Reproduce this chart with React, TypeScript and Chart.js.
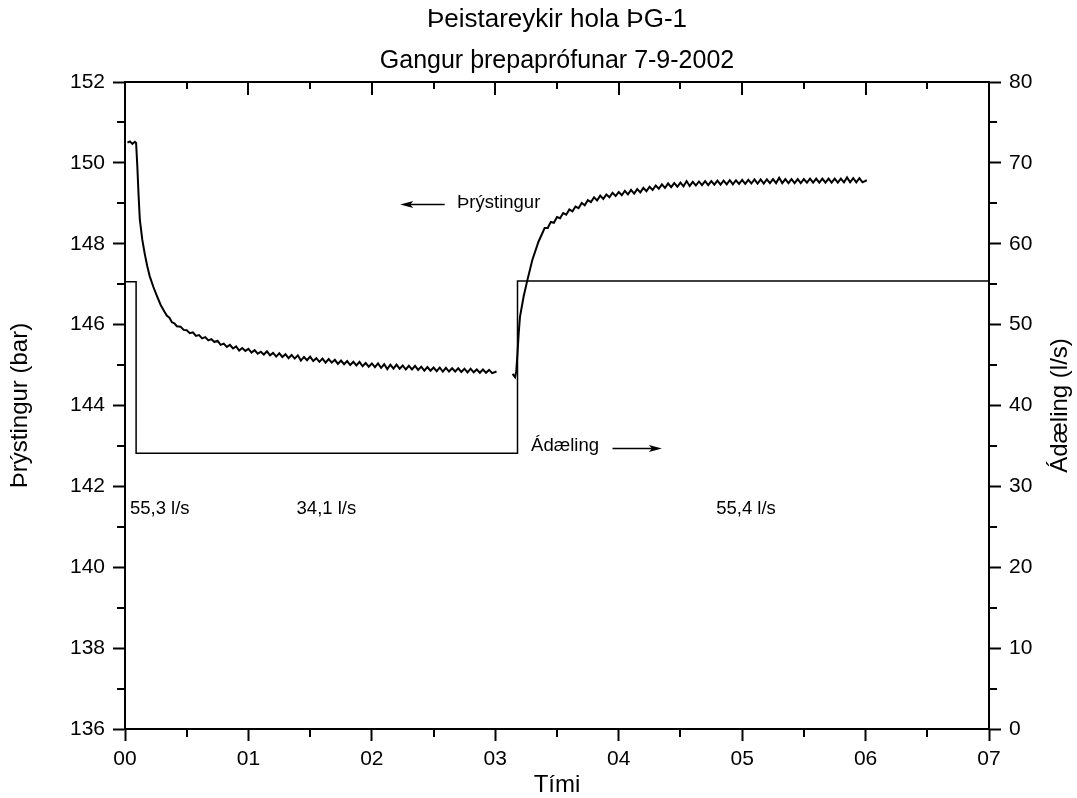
import React, { useEffect, useRef } from 'react';
import { Chart, registerables } from 'chart.js';

Chart.register(...registerables);

const FONT = "'Liberation Sans', Arial, sans-serif";

const chartTitle = 'Þeistareykir hola ÞG-1';
const chartSubtitle = 'Gangur þrepaprófunar 7-9-2002';
const xAxisTitle = 'Tími';
const yAxisTitle = 'Þrýstingur (bar)';
const y2AxisTitle = 'Ádæling (l/s)';

const xTickLabels = ['00', '01', '02', '03', '04', '05', '06', '07'];

// Pressure (bar), before the rate step-up
const pressureTime1 = [
  0.02, 0.04, 0.06, 0.08, 0.09, 0.10, 0.11, 0.12, 0.14, 0.16, 0.18, 0.20, 0.23, 0.26, 0.29, 0.32, 0.34, 0.36, 0.38, 0.40, 0.42,
  0.450, 0.475, 0.500, 0.525, 0.550, 0.575, 0.600, 0.625, 0.650, 0.675, 0.700, 0.725, 0.750, 0.775, 0.800, 0.825,
  0.850, 0.875, 0.900, 0.925, 0.950, 0.975, 1.000, 1.025, 1.050, 1.075, 1.100, 1.125, 1.150, 1.175, 1.200, 1.225,
  1.250, 1.275, 1.300, 1.325, 1.350, 1.375, 1.400, 1.425, 1.450, 1.475, 1.500, 1.525, 1.550, 1.575, 1.600, 1.625,
  1.650, 1.675, 1.700, 1.725, 1.750, 1.775, 1.800, 1.825, 1.850, 1.875, 1.900, 1.925, 1.950, 1.975, 2.000, 2.025,
  2.050, 2.075, 2.100, 2.125, 2.150, 2.175, 2.200, 2.225, 2.250, 2.275, 2.300, 2.325, 2.350, 2.375, 2.400, 2.425,
  2.450, 2.475, 2.500, 2.525, 2.550, 2.575, 2.600, 2.625, 2.650, 2.675, 2.700, 2.725, 2.750, 2.775, 2.800, 2.825,
  2.850, 2.875, 2.900, 2.925, 2.950, 2.975, 3.010,
];
const pressureValue1 = [
  150.50, 150.53, 150.47, 150.52, 150.49, 149.9, 149.2, 148.6, 148.1, 147.75, 147.45, 147.2, 146.93, 146.7, 146.48, 146.32, 146.22, 146.17, 146.06, 146.03, 145.96,
  145.95, 145.87, 145.86, 145.79, 145.81, 145.72, 145.74, 145.66, 145.69, 145.61, 145.64, 145.57, 145.60, 145.50, 145.53, 145.45,
  145.50, 145.41, 145.46, 145.36, 145.42, 145.35, 145.40, 145.31, 145.37, 145.28, 145.33, 145.26, 145.34, 145.24, 145.30, 145.21,
  145.29, 145.20, 145.27, 145.17, 145.25, 145.16, 145.24, 145.11, 145.20, 145.12, 145.21, 145.10, 145.17, 145.08, 145.16, 145.06,
  145.15, 145.06, 145.13, 145.03, 145.11, 145.02, 145.10, 145.00, 145.08, 144.99, 145.08, 144.97, 145.05, 144.96, 145.04, 144.95,
  145.04, 144.93, 145.02, 144.90, 145.01, 144.91, 145.01, 144.91, 144.99, 144.89, 144.98, 144.89, 144.98, 144.88, 144.96, 144.86,
  144.95, 144.86, 144.94, 144.85, 144.94, 144.84, 144.93, 144.84, 144.92, 144.84, 144.92, 144.83, 144.91, 144.82, 144.91, 144.82,
  144.89, 144.81, 144.89, 144.81, 144.88, 144.80, 144.84,
];

// Pressure (bar), after the rate step-up
const pressureTime2 = [
  3.14, 3.16, 3.17, 3.18, 3.19, 3.20, 3.23, 3.26, 3.30, 3.35,
  3.400, 3.425, 3.450, 3.475, 3.500, 3.525, 3.550, 3.575, 3.600, 3.625, 3.650, 3.675, 3.700, 3.725, 3.750, 3.775,
  3.800, 3.825, 3.850, 3.875, 3.900, 3.925, 3.950, 3.975, 4.000, 4.025, 4.050, 4.075, 4.100, 4.125, 4.150, 4.175,
  4.200, 4.225, 4.250, 4.275, 4.300, 4.325, 4.350, 4.375, 4.400, 4.425, 4.450, 4.475, 4.500, 4.525, 4.550, 4.575,
  4.600, 4.625, 4.650, 4.675, 4.700, 4.725, 4.750, 4.775, 4.800, 4.825, 4.850, 4.875, 4.900, 4.925, 4.950, 4.975,
  5.000, 5.025, 5.050, 5.075, 5.100, 5.125, 5.150, 5.175, 5.200, 5.225, 5.250, 5.275, 5.300, 5.325, 5.350, 5.375,
  5.400, 5.425, 5.450, 5.475, 5.500, 5.525, 5.550, 5.575, 5.600, 5.625, 5.650, 5.675, 5.700, 5.725, 5.750, 5.775,
  5.800, 5.825, 5.850, 5.875, 5.900, 5.925, 5.950, 5.975, 6.010,
];
const pressureValue2 = [
  144.78, 144.70, 144.85, 145.3, 145.8, 146.19, 146.7, 147.1, 147.6, 148.05,
  148.39, 148.39, 148.54, 148.52, 148.66, 148.63, 148.76, 148.72, 148.85, 148.80, 148.92, 148.88, 149.01, 148.95, 149.08, 149.03,
  149.15, 149.07, 149.19, 149.11, 149.22, 149.15, 149.26, 149.18, 149.28, 149.20, 149.31, 149.22, 149.33, 149.24, 149.35, 149.27,
  149.38, 149.30, 149.41, 149.33, 149.44, 149.36, 149.47, 149.38, 149.49, 149.40, 149.50, 149.41, 149.51, 149.42, 149.55, 149.43,
  149.53, 149.44, 149.54, 149.45, 149.55, 149.45, 149.55, 149.46, 149.56, 149.46, 149.56, 149.47, 149.57, 149.47, 149.57, 149.48,
  149.58, 149.48, 149.58, 149.49, 149.59, 149.49, 149.59, 149.49, 149.59, 149.50, 149.60, 149.50, 149.63, 149.50, 149.60, 149.50,
  149.60, 149.50, 149.60, 149.50, 149.60, 149.51, 149.61, 149.51, 149.61, 149.51, 149.61, 149.51, 149.61, 149.51, 149.61, 149.51,
  149.61, 149.52, 149.64, 149.52, 149.62, 149.52, 149.62, 149.52, 149.57,
];

// Injection rate (l/s)
const flowTime = [0, 0.09, 0.09, 3.18, 3.18, 7];
const flowValue = [55.3, 55.3, 34.1, 34.1, 55.4, 55.4];

// Rate annotations: text, time, pressure-axis value
const rateLabels = ['55,3 l/s', '34,1 l/s', '55,4 l/s'];
const rateLabelTime = [0.04, 1.39, 4.79];
const rateLabelLevel = 141.44;

const toPoints = (xs: number[], ys: number[]) => xs.map((x, i) => ({ x, y: ys[i] }));

const decorPlugin = {
  id: 'decor',
  afterDraw(chart: any) {
    const ctx = chart.ctx as CanvasRenderingContext2D;
    const { left, right, top, bottom } = chart.chartArea;
    const sx = chart.scales.x;
    const sy = chart.scales.y;
    const sy1 = chart.scales.y1;
    ctx.save();
    ctx.strokeStyle = '#000';
    ctx.fillStyle = '#000';

    // top frame line
    ctx.lineWidth = 2;
    ctx.beginPath();
    ctx.moveTo(left - 1, top);
    ctx.lineTo(right + 1, top);
    ctx.stroke();

    // top inward ticks + bottom minor ticks
    for (let v = 0; v <= 7.001; v += 0.5) {
      const px = Math.round(sx.getPixelForValue(v));
      const major = Math.abs(v - Math.round(v)) < 1e-6;
      ctx.beginPath();
      ctx.moveTo(px, top);
      ctx.lineTo(px, top + (major ? 13 : 7));
      ctx.stroke();
      if (!major) {
        ctx.beginPath();
        ctx.moveTo(px, bottom);
        ctx.lineTo(px, bottom + 8);
        ctx.stroke();
      }
    }
    // left minor ticks
    for (let v = 137; v < 152; v += 2) {
      const py = Math.round(sy.getPixelForValue(v));
      ctx.beginPath();
      ctx.moveTo(left, py);
      ctx.lineTo(left - 8, py);
      ctx.stroke();
    }
    // right minor ticks
    for (let v = 5; v < 80; v += 10) {
      const py = Math.round(sy1.getPixelForValue(v));
      ctx.beginPath();
      ctx.moveTo(right, py);
      ctx.lineTo(right + 8, py);
      ctx.stroke();
    }

    // titles
    const cx = (left + right) / 2;
    ctx.textAlign = 'center';
    ctx.textBaseline = 'middle';
    ctx.font = `26px ${FONT}`;
    ctx.fillText(chartTitle, cx, 20);
    ctx.font = `25px ${FONT}`;
    ctx.fillText(chartSubtitle, cx, 61);
    ctx.font = `24px ${FONT}`;
    ctx.fillText(xAxisTitle, cx, 785);

    const cy = (top + bottom) / 2;
    ctx.save();
    ctx.translate(20, cy);
    ctx.rotate(-Math.PI / 2);
    ctx.fillText(yAxisTitle, 0, 0);
    ctx.restore();
    ctx.save();
    ctx.translate(1060, cy);
    ctx.rotate(-Math.PI / 2);
    ctx.fillText(y2AxisTitle, 0, 0);
    ctx.restore();

    // rate annotations
    ctx.font = `18.5px ${FONT}`;
    ctx.textAlign = 'left';
    rateLabels.forEach((t, i) => {
      ctx.fillText(t, sx.getPixelForValue(rateLabelTime[i]), sy.getPixelForValue(rateLabelLevel));
    });

    // series annotations with arrows
    ctx.fillText('Þrýstingur', sx.getPixelForValue(2.69), sy.getPixelForValue(149.0));
    ctx.fillText('Ádæling', sx.getPixelForValue(3.29), sy.getPixelForValue(143.0));

    const arrow = (t0: number, t1: number, p: number) => {
      const x0 = sx.getPixelForValue(t0);
      const x1 = sx.getPixelForValue(t1);
      const y = Math.round(sy.getPixelForValue(p)) + 0.5;
      const dir = Math.sign(x1 - x0);
      ctx.lineWidth = 1.5;
      ctx.beginPath();
      ctx.moveTo(x0, y);
      ctx.lineTo(x1 - dir * 8, y);
      ctx.stroke();
      ctx.beginPath();
      ctx.moveTo(x1, y);
      ctx.lineTo(x1 - dir * 13, y - 3.5);
      ctx.lineTo(x1 - dir * 10, y);
      ctx.lineTo(x1 - dir * 13, y + 3.5);
      ctx.closePath();
      ctx.fill();
    };
    arrow(2.59, 2.23, 148.98);
    arrow(3.95, 4.35, 142.95);

    ctx.restore();
  },
};

export default function App() {
  const ref = useRef<HTMLCanvasElement>(null);

  useEffect(() => {
    const axisGrid = { drawOnChartArea: false, drawTicks: true, tickLength: 12, tickWidth: 2, color: '#000' };
    const axisBorder = { display: true, width: 2, color: '#000' };
    const tickFont = { family: FONT, size: 21 };
    const chart = new Chart(ref.current as HTMLCanvasElement, {
      type: 'line',
      data: {
        datasets: [
          {
            data: toPoints(pressureTime1, pressureValue1),
            yAxisID: 'y',
            borderColor: '#000',
            borderWidth: 2,
            pointRadius: 0,
            tension: 0,
          },
          {
            data: toPoints(pressureTime2, pressureValue2),
            yAxisID: 'y',
            borderColor: '#000',
            borderWidth: 2,
            pointRadius: 0,
            tension: 0,
          },
          {
            data: toPoints(flowTime, flowValue),
            yAxisID: 'y1',
            borderColor: '#000',
            borderWidth: 1.5,
            pointRadius: 0,
            tension: 0,
          },
        ],
      },
      options: {
        responsive: false,
        devicePixelRatio: 1,
        animation: false,
        layout: { padding: { top: 82, left: 0, right: 0, bottom: 0 } },
        plugins: { legend: { display: false }, tooltip: { enabled: false }, title: { display: false } },
        scales: {
          x: {
            type: 'linear',
            position: 'bottom',
            min: 0,
            max: 7,
            afterFit: (s: any) => { s.height = 69; },
            grid: axisGrid,
            border: axisBorder,
            ticks: {
              stepSize: 1,
              autoSkip: false,
              maxRotation: 0,
              font: tickFont,
              color: '#000',
              padding: 6,
              callback: (v: any) => xTickLabels[Math.round(Number(v))] ?? '',
            },
          },
          y: {
            type: 'linear',
            position: 'left',
            min: 136,
            max: 152,
            afterFit: (s: any) => { s.width = 125; },
            grid: axisGrid,
            border: axisBorder,
            ticks: { stepSize: 2, font: tickFont, color: '#000', padding: 8 },
          },
          y1: {
            type: 'linear',
            position: 'right',
            min: 0,
            max: 80,
            afterFit: (s: any) => { s.width = 88; },
            grid: axisGrid,
            border: axisBorder,
            ticks: { stepSize: 10, font: tickFont, color: '#000', padding: 8 },
          },
        },
      },
      plugins: [decorPlugin],
    });
    return () => chart.destroy();
  }, []);

  return (
    <div style={{ position: 'fixed', left: 0, top: 0, width: 1077, height: 798, background: '#fff' }}>
      <canvas ref={ref} width={1077} height={798} style={{ display: 'block', width: 1077, height: 798 }} />
    </div>
  );
}
